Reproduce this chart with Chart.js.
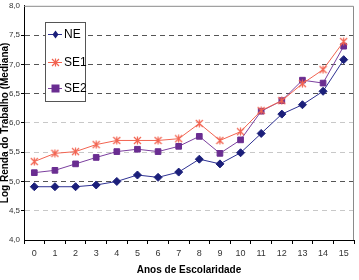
<!DOCTYPE html>
<html>
<head>
<meta charset="utf-8">
<script src="https://cdn.jsdelivr.net/npm/chart.js@4"></script>
<style>
  html, body { margin: 0; padding: 0; background: #fff; }
  #wrap { width: 359px; height: 280px; }
</style>
</head>
<body>
<div id="wrap"><canvas id="chart" width="359" height="280"></canvas></div>
<script>
// anos de escolaridade
const anos = ['0','1','2','3','4','5','6','7','8','9','10','11','12','13','14','15'];

// log renda mediana por região
const serieNE  = [4.91, 4.91, 4.91, 4.94, 5.00, 5.11, 5.07, 5.16, 5.38, 5.30, 5.49, 5.82, 6.15, 6.31, 6.54, 7.08];
const serieSE1 = [5.34, 5.48, 5.51, 5.63, 5.70, 5.70, 5.70, 5.73, 5.99, 5.70, 5.85, 6.21, 6.38, 6.67, 6.91, 7.39];
const serieSE2 = [5.15, 5.19, 5.30, 5.41, 5.51, 5.55, 5.51, 5.60, 5.77, 5.48, 5.71, 6.20, 6.38, 6.73, 6.68, 7.31];

const yTicks = [4.0, 4.5, 5.0, 5.5, 6.0, 6.5, 7.0, 7.5, 8.0];
const darkLines = [5.0, 6.5, 7.0, 7.5];
const yTitle = 'Log Renda do Trabalho (Mediana)';

const fontNarrow = '"Liberation Sans Narrow", "Arial Narrow", "Liberation Sans", Arial, sans-serif';

// marcador "asterisco" do Excel (x com traço vertical)
function starMarker(color) {
  const cv = document.createElement('canvas');
  cv.width = 9; cv.height = 9;
  const g = cv.getContext('2d');
  g.strokeStyle = color;
  g.lineWidth = 1.2;
  g.beginPath();
  g.moveTo(1, 1); g.lineTo(8, 8);
  g.moveTo(8, 1); g.lineTo(1, 8);
  g.moveTo(4.5, 0.5); g.lineTo(4.5, 8.5);
  g.stroke();
  return cv;
}
const seStar = starMarker('#f26451');

// legenda, borda e título do eixo y desenhados à mão
const legendBox = {
  id: 'legendBox',
  afterDraw(chart) {
    const c = chart.ctx;
    const area = chart.chartArea;
    c.save();
    // borda cinza do topo e da direita
    c.strokeStyle = '#8a8a8a';
    c.lineWidth = 1;
    c.beginPath();
    c.moveTo(area.left, area.top + 0.5);
    c.lineTo(area.right - 0.5, area.top + 0.5);
    c.lineTo(area.right - 0.5, area.bottom);
    c.stroke();

    // título do eixo y
    c.save();
    c.translate(5, (area.top + area.bottom) / 2);
    c.rotate(-Math.PI / 2);
    c.fillStyle = '#000';
    c.font = 'bold 10px ' + fontNarrow;
    c.textAlign = 'center';
    c.textBaseline = 'middle';
    c.fillText(yTitle, 0, 0);
    c.restore();

    const x = 45, y = 22, w = 40, h = 79;
    c.fillStyle = '#fff';
    c.fillRect(x, y, w, h);
    c.strokeStyle = '#555';
    c.strokeRect(x + 0.5, y + 0.5, w, h);
    const rows = [34, 62, 88];
    chart.data.datasets.forEach((ds, i) => {
      const ly = rows[i];
      c.strokeStyle = ds.borderColor;
      c.lineWidth = 1;
      c.beginPath();
      c.moveTo(x + 3, ly + 0.5);
      c.lineTo(x + 17, ly + 0.5);
      c.stroke();
      drawMarker(c, ds, x + 10.5, ly + 0.5);
      c.fillStyle = '#000';
      c.font = '12px ' + fontNarrow;
      c.textBaseline = 'middle';
      c.fillText(ds.label, x + 19, ly + 1);
    });
    c.restore();
  }
};

function drawMarker(c, ds, cx, cy) {
  const r = ds.pointRadius;
  c.fillStyle = ds.pointBackgroundColor;
  if (ds.pointStyle === 'rectRot') {
    c.beginPath();
    c.moveTo(cx, cy - r); c.lineTo(cx + r * 0.75, cy); c.lineTo(cx, cy + r); c.lineTo(cx - r * 0.75, cy);
    c.closePath(); c.fill();
  } else if (ds.pointStyle === 'rect') {
    c.fillRect(cx - r, cy - r, 2 * r, 2 * r);
  } else {
    c.drawImage(ds.pointStyle, cx - 4.5, cy - 4.5);
  }
}

const ctx = document.getElementById('chart').getContext('2d');
new Chart(ctx, {
  type: 'line',
  data: {
    labels: anos,
    datasets: [{
      label: 'NE',
      data: serieNE,
      borderColor: '#2e3192',
      backgroundColor: '#1b1f7a',
      pointBackgroundColor: '#1b1f7a',
      pointBorderColor: '#1b1f7a',
      pointStyle: 'rectRot',
      pointRadius: 4,
      borderWidth: 1,
      tension: 0
    }, {
      label: 'SE1',
      data: serieSE1,
      borderColor: '#f26451',
      backgroundColor: '#f26451',
      pointBackgroundColor: '#f26451',
      pointBorderColor: '#f26451',
      pointStyle: seStar,
      pointRadius: 4,
      borderWidth: 1,
      tension: 0
    }, {
      label: 'SE2',
      data: serieSE2,
      borderColor: '#7b3f9e',
      backgroundColor: '#6a2d91',
      pointBackgroundColor: '#6a2d91',
      pointBorderColor: '#6a2d91',
      pointStyle: 'rect',
      pointRadius: 4,
      borderWidth: 1,
      tension: 0
    }]
  },
  options: {
    responsive: false,
    animation: false,
    layout: { padding: { top: 5, right: 2, left: 0, bottom: 0 } },
    plugins: {
      legend: { display: false },
      tooltip: { enabled: false }
    },
    scales: {
      x: {
        offset: true,
        afterFit: s => { s.height = 40; },
        grid: {
          offset: true,
          drawOnChartArea: false,
          drawTicks: true,
          tickLength: 4,
          color: '#000'
        },
        border: { color: '#000', width: 1 },
        ticks: {
          color: '#333',
          font: { size: 9, family: fontNarrow },
          padding: 4,
          maxRotation: 0,
          autoSkip: false
        },
        title: {
          display: true,
          text: 'Anos de Escolaridade',
          color: '#000',
          font: { size: 10, weight: 'bold', family: fontNarrow },
          padding: { top: 0, bottom: 4 }
        }
      },
      y: {
        min: 4,
        max: 8,
        afterFit: s => { s.width = 24; },
        afterBuildTicks: s => { s.ticks = yTicks.map(v => ({ value: v })); },
        grid: {
          color: ctx => (ctx.tick && darkLines.includes(ctx.tick.value)) ? '#555' : '#c8c8c8',
          lineWidth: ctx => (ctx.tick && (ctx.tick.value === 4 || ctx.tick.value === 8)) ? 0 : 1,
          tickLength: 3,
          tickColor: '#000',
          drawTicks: true
        },
        border: { color: '#000', width: 1, dash: [5, 4] },
        ticks: {
          color: '#333',
          font: { size: 8, family: fontNarrow },
          padding: 1,
          callback: v => v.toFixed(1).replace('.', ',')
        }
      }
    }
  },
  plugins: [legendBox]
});
</script>
</body>
</html>
